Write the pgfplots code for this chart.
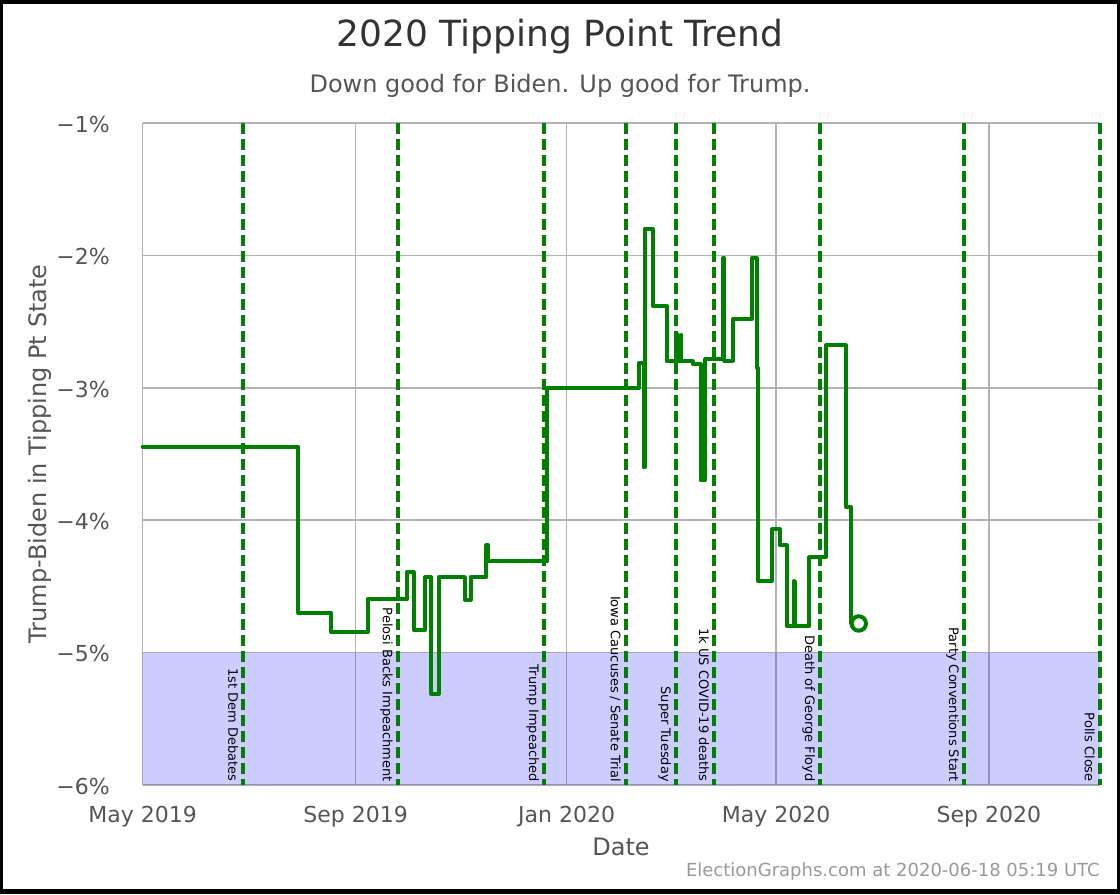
\documentclass[border=0pt]{standalone}
\usepackage{pgfplots}
\pgfplotsset{compat=1.18}
\usepackage{fontspec}
\setmainfont{DejaVu Sans}
\definecolor{gline}{HTML}{008000}
\definecolor{gridg}{HTML}{B3B3B3}
\definecolor{tickg}{HTML}{555555}
\definecolor{titleg}{HTML}{333333}
\definecolor{footg}{HTML}{999999}
\newcommand\evtfont{\fontsize{9.75}{11}\selectfont}
\begin{document}
\begin{tikzpicture}
\begin{scope}[x=0.75pt,y=0.75pt]
\fill[black] (0,0) rectangle (1120,894);
\fill[white] (3,5) rectangle (1117,890);
\node[anchor=base, text=titleg, font=\fontsize{27}{30}\selectfont] at (560,847) {2020 Tipping Point Trend};
\node[anchor=base, text=tickg, font=\fontsize{18}{21}\selectfont] at (560,801) {Down good for Biden. Up good for Trump.};
\node[anchor=base, text=tickg, font=\fontsize{18}{21}\selectfont] at (621,39) {Date};
\node[anchor=base east, inner sep=0pt, text=footg, font=\fontsize{13.5}{16}\selectfont] at (1100,18) {ElectionGraphs.com at 2020-06-18 05:19 UTC};
\node[rotate=90, anchor=base, text=tickg, font=\fontsize{18}{21}\selectfont] at (46,440) {Trump-Biden in Tipping Pt State};
\end{scope}
\begin{axis}[
  scale only axis, width=718pt, height=496.5pt,
  at={(107.025pt,81.75pt)}, anchor=south west,
  xmin=0, xmax=553.2, ymin=-6, ymax=-1,
  xtick={0,123,245,366,489},
  xticklabels={May 2019,Sep 2019,Jan 2020,May 2020,Sep 2020},
  ytick={-6,-5,-4,-3,-2,-1},
  yticklabels={−6\%,−5\%,−4\%,−3\%,−2\%,−1\%},
  grid=major, grid style={gridg, line width=1.1pt},
  axis line style={draw=none},
  major tick length=0pt,
  tick label style={text=tickg, font=\fontsize{16.5}{19}\selectfont},
  xticklabel style={anchor=base, inner sep=0pt, yshift=-27.75pt},
  yticklabel style={anchor=east, inner sep=0pt, xshift=-24.5pt, yshift=-1pt},
  clip=false,
]
\addplot[draw=none, fill=blue, fill opacity=0.2] coordinates {(0,-6) (553.2,-6) (553.2,-5) (0,-5)} \closedcycle;

\pgfplotsinvokeforeach{58.1,147.3,231.9,279.1,308.2,330.1,391.4,474.6,553.0}{
  \draw[gline, line width=3pt, dash pattern=on 8.25pt off 3.75pt] (axis cs:#1,-1) -- (axis cs:#1,-6);
}
\node[rotate=-90, anchor=north east, inner sep=0pt, font=\evtfont] at ([xshift=-3.5pt,yshift=2.25pt]axis cs:58.1,-6) {1st Dem Debates};
\node[rotate=-90, anchor=north east, inner sep=0pt, font=\evtfont] at ([xshift=-3.5pt,yshift=2.25pt]axis cs:147.3,-6) {Pelosi Backs Impeachment};
\node[rotate=-90, anchor=north east, inner sep=0pt, font=\evtfont] at ([xshift=-3.5pt,yshift=2.25pt]axis cs:231.9,-6) {Trump Impeached};
\node[rotate=-90, anchor=north east, inner sep=0pt, font=\evtfont] at ([xshift=-3.5pt,yshift=2.25pt]axis cs:279.1,-6) {Iowa Caucuses / Senate Trial};
\node[rotate=-90, anchor=north east, inner sep=0pt, font=\evtfont] at ([xshift=-3.5pt,yshift=2.25pt]axis cs:308.2,-6) {Super Tuesday};
\node[rotate=-90, anchor=north east, inner sep=0pt, font=\evtfont] at ([xshift=-3.5pt,yshift=2.25pt]axis cs:330.1,-6) {1k US COVID-19 deaths};
\node[rotate=-90, anchor=north east, inner sep=0pt, font=\evtfont] at ([xshift=-3.5pt,yshift=2.25pt]axis cs:391.4,-6) {Death of George Floyd};
\node[rotate=-90, anchor=north east, inner sep=0pt, font=\evtfont] at ([xshift=-3.5pt,yshift=2.25pt]axis cs:474.6,-6) {Party Conventions Start};
\node[rotate=-90, anchor=north east, inner sep=0pt, font=\evtfont] at ([xshift=-3.5pt,yshift=2.25pt]axis cs:553.0,-6) {Polls Close};

\addplot[gline, line width=3pt, line join=round, line cap=round, mark=none] coordinates {
(0,-3.445) (89.9,-3.445) (89.9,-4.70) (108.8,-4.70) (108.8,-4.845)
(130.0,-4.845) (130.0,-4.595) (153.0,-4.595) (153.0,-4.39) (156.5,-4.39)
(156.5,-4.83) (163.1,-4.83) (163.1,-4.43) (166.6,-4.43) (166.6,-5.31)
(171.2,-5.31) (171.2,-4.43) (186.2,-4.43) (186.2,-4.60) (189.5,-4.60)
(189.5,-4.43) (198.6,-4.43) (198.6,-4.19) (199.6,-4.19) (199.6,-4.31)
(233.9,-4.31) (233.9,-3.00) (286.9,-3.00) (286.9,-2.81) (289.5,-2.81)
(289.5,-3.60) (290.2,-3.60) (290.2,-1.80) (294.7,-1.80) (294.7,-2.38)
(302.8,-2.38) (302.8,-2.80) (308.3,-2.80) (308.3,-2.59) (308.8,-2.59)
(308.8,-2.80) (310.8,-2.80) (310.8,-2.60) (311.3,-2.60) (311.3,-2.80)
(317.8,-2.80) (317.8,-2.82) (322.4,-2.82) (322.4,-3.70) (324.9,-3.70)
(324.9,-2.785) (335.3,-2.785) (335.3,-2.02) (336.0,-2.02) (336.0,-2.795)
(341.1,-2.795) (341.1,-2.48) (351.9,-2.48) (351.9,-2.02) (354.8,-2.02)
(354.8,-2.85) (355.7,-2.85) (355.7,-4.46) (363.5,-4.46) (363.5,-4.07)
(368.3,-4.07) (368.3,-4.19) (372.1,-4.19) (372.1,-4.80) (376.3,-4.80)
(376.3,-4.46) (376.9,-4.46) (376.9,-4.80) (385.2,-4.80) (385.2,-4.28)
(394.8,-4.28) (394.8,-2.68) (406.4,-2.68) (406.4,-3.90) (409.3,-3.90)
(409.3,-4.78) (413.8,-4.78)
};
\addplot[only marks, mark=*, mark size=5.4pt, mark options={draw=gline, fill=white, line width=3pt}] coordinates {(413.8,-4.78)};
\end{axis}
\end{tikzpicture}
\end{document}
